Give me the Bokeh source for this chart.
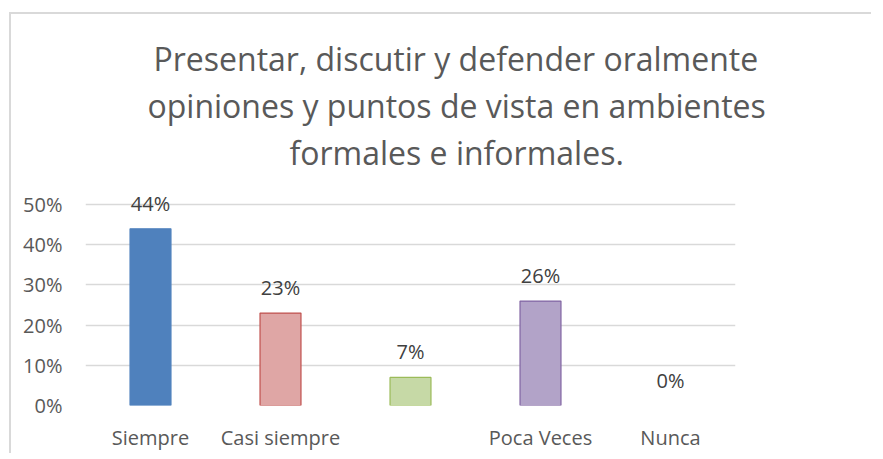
from bokeh.plotting import figure
from bokeh.models import FixedTicker, Title, ColumnDataSource, CustomJSTickFormatter
from bokeh.core.properties import value
from bokeh.embed import file_html
from bokeh.resources import INLINE

categories = ["Siempre", "Casi siempre", "", "Poca Veces", "Nunca"]
values = [0.44, 0.23, 0.07, 0.26, 0.0]
value_labels = ["44%", "23%", "7%", "26%", "0%"]
fill_colors = ["#4f81bd", "#dfa6a5", "#c6d9a6", "#b2a3c8", "#f79646"]
line_colors = ["#4f81bd", "#c0504d", "#9bbb59", "#8064a2", "#f79646"]
y_ticks = [0, 0.1, 0.2, 0.3, 0.4, 0.5]
title_lines = ["Presentar, discutir y defender oralmente",
               "opiniones y puntos de vista en ambientes",
               "formales e informales."]

FONT = "Open Sans"
xs = list(range(1, len(categories) + 1))
src = ColumnDataSource(dict(x=xs, top=values, fill=fill_colors, line=line_colors,
                            la=[1 if v > 0 else 0 for v in values], lab=value_labels))

p = figure(frame_width=650, frame_height=231, output_backend="svg", toolbar_location=None,
           x_range=(0.5, 5.5), y_range=(0, 0.575),
           min_border_left=74, min_border_right=136, min_border_top=160, min_border_bottom=40,
           styles={"border-left": "2px solid #d9d9d9", "border-top": "2px solid #d9d9d9",
                   "margin-left": "9px", "margin-top": "12px"})
p.title = None
p.outline_line_color = None
p.background_fill_color = "white"

p.vbar(x="x", top="top", bottom=0, width=0.315, source=src,
       fill_color="fill", line_color="line", line_alpha="la", fill_alpha="la", line_width=1.2)
p.text(x="x", y="top", text="lab", source=src, text_align="center", text_baseline="bottom",
       y_offset=-12, text_font=value(FONT), text_font_size="20px", text_color="#404040")

p.xaxis.ticker = FixedTicker(ticks=xs)
p.xaxis.major_label_overrides = {i: c for i, c in zip(xs, categories)}
p.yaxis.ticker = FixedTicker(ticks=y_ticks)
p.yaxis.formatter = CustomJSTickFormatter(code="return Math.round(tick*100) + '%';")
for ax in (p.xaxis, p.yaxis):
    ax.axis_line_color = None
    ax.major_tick_line_color = None
    ax.minor_tick_line_color = None
    ax.major_tick_out = 0
    ax.major_tick_in = 0
    ax.minor_tick_out = 0
    ax.major_label_text_font = FONT
    ax.major_label_text_font_size = "20px"
    ax.major_label_text_color = "#595959"
p.xaxis.major_label_standoff = 18
p.yaxis.major_label_standoff = 23
p.xgrid.grid_line_color = None
p.ygrid.grid_line_color = "#d9d9d9"
p.ygrid.grid_line_width = 1.5

title_offsets = [68, 62, 204]
for t, off in reversed(list(zip(title_lines, title_offsets))):
    p.add_layout(Title(text=t, align="left", offset=off, standoff=2,
                       text_font=FONT, text_font_size="32px", text_font_style="normal",
                       text_color="#595959"), "above")

open("out.html", "w").write(file_html(p, INLINE))
